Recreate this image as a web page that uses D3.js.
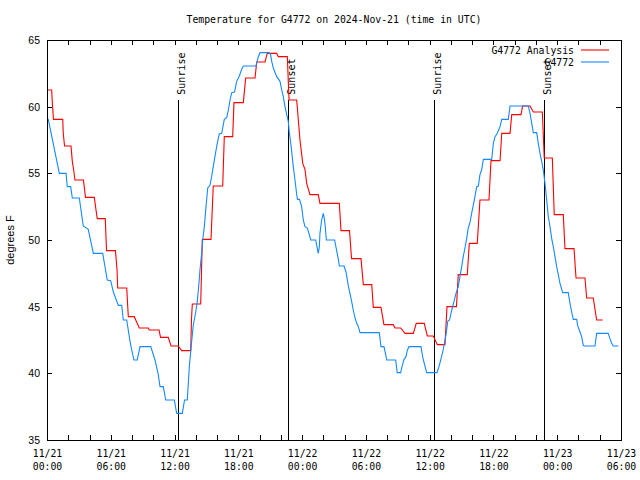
<!DOCTYPE html>
<html><head><meta charset="utf-8">
<script src="https://cdn.jsdelivr.net/npm/d3@7"></script>
<style>body{margin:0;background:#fff}svg{display:block}</style>
</head><body>
<svg id="c" width="640" height="480"></svg>
<script>
const titleText = "Temperature for G4772 on 2024-Nov-21 (time in UTC)";
const yLabelText = "degrees F";
const seriesNames = ["G4772 Analysis", "G4772"];
const seriesColors = ["#ff0000", "#1589ff"];
const yTicks = [35, 40, 45, 50, 55, 60, 65];
const xTickHours = [0, 6, 12, 18, 24, 30, 36, 42, 48, 54];
const xTickDates = ["11/21","11/21","11/21","11/21","11/22","11/22","11/22","11/22","11/23","11/23"];
const xTickTimes = ["00:00","06:00","12:00","18:00","00:00","06:00","12:00","18:00","00:00","06:00"];
const minorTickHours = d3.range(0, 55, 2);
const sunHours = [12.35, 22.70, 36.43, 46.78];
const sunLabels = ["Sunrise", "Sunset", "Sunrise", "Sunset"];

// [hours since 11/21 00:00 UTC, degrees F]
const analysisPoints = [[0,61.25],[0.44,61.25],[0.52,60.05],[0.61,59.05],[1.48,59.05],[1.53,58.0],[1.65,57.05],[2.26,57.05],[2.38,55.9],[2.51,55.25],[2.63,54.5],[3.43,54.5],[3.62,53.2],[4.45,53.2],[4.61,52.25],[4.73,51.6],[5.48,51.6],[5.60,49.2],[6.44,49.2],[6.59,47.75],[6.65,46.4],[7.50,46.4],[7.65,44.25],[8.21,44.25],[8.68,43.4],[9.53,43.4],[9.62,43.25],[10.54,43.25],[10.68,42.7],[11.41,42.7],[11.67,42.05],[12.35,42.05],[12.67,41.7],[13.52,41.7],[13.59,44.0],[13.67,45.2],[14.46,45.2],[14.61,50.05],[15.43,50.05],[15.64,54.05],[16.53,54.05],[16.68,57.75],[17.47,57.75],[17.59,60.3],[18.47,60.3],[18.69,62.15],[19.57,62.15],[19.73,63.35],[20.51,63.35],[20.72,64.0],[21.61,64.0],[21.76,63.75],[22.61,63.75],[22.77,60.5],[23.49,60.5],[23.80,57.5],[24.06,55.75],[24.27,55.3],[24.43,54.25],[24.74,53.4],[25.52,53.4],[25.68,52.75],[27.50,52.75],[27.66,50.7],[28.46,50.7],[28.65,48.6],[29.54,48.6],[29.76,46.65],[30.55,46.65],[30.70,44.95],[31.42,44.95],[31.70,43.65],[32.58,43.65],[32.74,43.4],[33.27,43.4],[33.68,43.0],[34.46,43.0],[34.74,43.75],[35.49,43.75],[35.78,42.8],[36.34,42.8],[36.72,42.15],[37.44,42.15],[37.63,45.0],[38.52,45.0],[38.69,47.4],[39.54,47.4],[39.73,49.75],[40.48,49.75],[40.73,53.0],[41.58,53.0],[41.77,55.95],[42.62,55.95],[42.78,58.0],[43.56,58.0],[43.72,59.4],[44.59,59.4],[44.75,60.05],[45.44,60.05],[45.75,59.6],[46.60,59.6],[46.78,56.15],[47.54,56.15],[47.72,51.9],[48.57,51.9],[48.73,49.35],[49.58,49.35],[49.77,47.15],[50.61,47.15],[50.77,45.65],[51.39,45.65],[51.71,44.0],[52.28,44.0]];

const observedPoints = [[0,59.05],[0.12,59.05],[1.16,55.0],[1.79,55.0],[1.91,54.0],[2.23,54.0],[2.38,53.15],[3.04,53.15],[3.41,51.05],[3.88,50.8],[4.36,49.0],[5.24,49.0],[5.67,47.0],[5.99,46.95],[6.24,46.1],[6.71,45.1],[7.03,45.1],[7.18,44.0],[7.50,44.0],[7.81,42.4],[7.97,41.75],[8.18,41.0],[8.49,41.0],[8.75,42.0],[9.76,42.0],[10.16,41.0],[10.47,39.9],[10.63,39.0],[10.94,39.0],[11.17,38.0],[11.98,38.0],[12.20,37.0],[12.73,37.0],[12.94,38.0],[13.20,38.0],[13.39,40.5],[13.61,42.4],[13.76,43.6],[13.99,44.6],[14.14,45.4],[14.27,46.5],[14.39,47.75],[14.55,49.0],[14.65,50.0],[14.80,51.0],[14.96,52.5],[15.12,53.9],[15.33,54.1],[15.49,54.75],[15.64,55.5],[15.80,56.25],[15.96,57.0],[16.11,57.6],[16.21,57.95],[16.43,58.0],[16.53,58.4],[16.68,59.05],[16.91,59.2],[17.06,59.75],[17.22,60.5],[17.38,61.05],[17.64,61.1],[17.85,61.9],[18.09,62.3],[18.32,62.8],[18.47,63.05],[19.66,63.05],[19.88,63.75],[20.04,64.05],[20.91,64.05],[21.04,63.9],[21.14,63.4],[21.29,62.9],[21.61,62.25],[21.92,61.9],[22.08,61.25],[22.23,60.75],[22.39,60.0],[22.55,59.4],[22.70,58.9],[22.79,58.1],[22.93,57.25],[23.05,56.4],[23.17,55.5],[23.33,54.5],[23.49,53.4],[23.57,53.05],[23.75,53.05],[23.96,52.5],[24.11,51.5],[24.27,51.0],[24.49,50.9],[24.68,50.4],[24.81,50.0],[25.28,50.0],[25.37,49.6],[25.52,49.0],[25.62,49.5],[25.68,50.5],[25.84,51.5],[25.99,52.0],[26.09,51.6],[26.18,51.0],[26.28,50.0],[27.06,50.0],[27.25,49.2],[27.40,48.6],[27.50,48.05],[27.94,48.05],[28.13,47.6],[28.34,46.6],[28.50,46.0],[28.66,45.4],[28.81,44.75],[28.98,44.15],[29.14,43.75],[29.29,43.5],[29.45,43.05],[31.26,43.05],[31.42,42.0],[31.70,42.0],[31.84,41.5],[31.96,41.0],[32.80,41.0],[32.95,40.05],[33.27,40.05],[33.40,40.5],[33.59,41.05],[33.77,41.25],[33.91,41.75],[34.06,42.0],[35.18,42.0],[35.34,41.25],[35.49,40.75],[35.72,40.05],[36.69,40.05],[36.91,40.6],[37.07,41.1],[37.23,41.6],[37.38,42.25],[37.54,42.9],[37.70,43.9],[37.87,44.0],[38.08,44.75],[38.29,45.4],[38.48,46.0],[38.69,46.5],[38.85,47.25],[39.01,48.0],[39.16,48.75],[39.32,49.4],[39.48,50.1],[39.63,50.9],[39.79,51.3],[39.95,52.0],[40.10,52.6],[40.26,53.25],[40.42,54.0],[40.58,54.05],[40.73,54.9],[40.89,55.25],[41.05,56.05],[41.84,56.05],[41.99,57.25],[42.15,57.75],[42.36,58.0],[42.62,58.5],[42.78,59.05],[43.40,59.05],[43.56,60.05],[45.28,60.05],[45.44,59.5],[45.60,58.75],[45.75,58.05],[46.07,58.05],[46.22,57.25],[46.38,56.5],[46.54,55.9],[46.69,55.25],[46.85,54.25],[47.01,53.0],[47.16,51.75],[47.32,51.0],[47.48,50.1],[47.63,49.5],[47.79,48.75],[47.95,48.0],[48.10,47.4],[48.26,46.75],[48.51,46.05],[49.04,46.05],[49.20,45.25],[49.36,44.6],[49.51,44.05],[49.83,44.05],[49.92,43.6],[50.07,43.25],[50.30,42.75],[50.45,42.1],[50.55,42.05],[51.55,42.05],[51.71,43.0],[52.80,43.0],[52.96,42.6],[53.12,42.25],[53.27,42.05],[53.75,42.05]];

const W = 640, H = 480;
const m = {left: 47, right: 19, top: 40, bottom: 40};
const MONO = "'DejaVu Sans Mono', monospace";
const SANS = "'Liberation Sans', Arial, sans-serif";

const svg = d3.select("#c");
svg.append("rect").attr("width", W).attr("height", H).attr("fill", "#fff");

const x = d3.scaleLinear().domain([0, 54]).range([m.left, W - m.right]);
const y = d3.scaleLinear().domain([35, 65]).range([H - m.bottom, m.top]);

// title
svg.append("text").attr("x", (x.range()[0] + x.range()[1]) / 2).attr("y", 23)
  .attr("text-anchor", "middle").attr("font-family", MONO).attr("font-size", "9.8px")
  .text(titleText);

// y label
svg.append("text").attr("transform", `translate(14,${(y.range()[0] + y.range()[1]) / 2}) rotate(-90)`)
  .attr("text-anchor", "middle").attr("font-family", SANS).attr("font-size", "11px")
  .text(yLabelText);

function styleAxis(g) {
  g.select(".domain").remove();
  g.selectAll("line").attr("stroke", "#000").attr("shape-rendering", "crispEdges");
}

// bottom ticks (every 2 h) & top mirror
svg.append("g").attr("transform", `translate(0,${y(35)})`)
  .call(d3.axisBottom(x).tickValues(minorTickHours).tickSizeInner(-5).tickSizeOuter(0).tickFormat(""))
  .call(styleAxis);
svg.append("g").attr("transform", `translate(0,${y(65)})`)
  .call(d3.axisTop(x).tickValues(minorTickHours).tickSizeInner(-5).tickSizeOuter(0).tickFormat(""))
  .call(styleAxis);

// bottom labels
const xl = svg.append("g").attr("transform", `translate(0,${y(35)})`)
  .call(d3.axisBottom(x).tickValues(xTickHours).tickSize(0).tickPadding(0).tickFormat(""));
xl.select(".domain").remove();
xl.selectAll(".tick").each(function(d, i) {
  const t = d3.select(this).append("text").attr("fill", "#000")
    .attr("font-family", MONO).attr("font-size", "9.8px").attr("text-anchor", "middle");
  t.append("tspan").attr("x", 0).attr("y", 17).text(xTickDates[i]);
  t.append("tspan").attr("x", 0).attr("y", 30).text(xTickTimes[i]);
});

// left & right y axes
const yl = svg.append("g").attr("transform", `translate(${x(0)},0)`)
  .call(d3.axisLeft(y).tickValues(yTicks).tickSizeInner(-5).tickSizeOuter(0).tickPadding(7).tickFormat(d3.format("d")))
  .call(styleAxis);
yl.selectAll("text").attr("font-family", SANS).attr("font-size", "10.5px").attr("fill", "#000");
svg.append("g").attr("transform", `translate(${x(54)},0)`)
  .call(d3.axisRight(y).tickValues(yTicks).tickSizeInner(-5).tickSizeOuter(0).tickFormat(""))
  .call(styleAxis);

// sunrise / sunset markers
const sunG = svg.append("g");
sunHours.forEach((h, i) => {
  sunG.append("line").attr("x1", x(h)).attr("x2", x(h)).attr("y1", y(60.5)).attr("y2", y(35))
    .attr("stroke", "#000").attr("stroke-width", 1).attr("shape-rendering", "crispEdges");
  sunG.append("text").attr("transform", `translate(${x(h) + 7},${y(60.9)}) rotate(-90)`)
    .attr("font-family", MONO).attr("font-size", "10px").attr("text-anchor", "start")
    .text(sunLabels[i]);
});

// data lines
const line = d3.line().x(d => x(d[0])).y(d => y(d[1]));
[analysisPoints, observedPoints].forEach((pts, i) => {
  svg.append("path").datum(pts).attr("d", line).attr("fill", "none")
    .attr("stroke", seriesColors[i]).attr("stroke-width", 1.1)
    .attr("stroke-linejoin", "miter");
});

// border
svg.append("rect").attr("x", x(0)).attr("y", y(65)).attr("width", x(54) - x(0)).attr("height", y(35) - y(65))
  .attr("fill", "none").attr("stroke", "#000").attr("shape-rendering", "crispEdges");

// legend
seriesNames.forEach((name, i) => {
  const ly = 50 + i * 12;
  svg.append("text").attr("x", 574).attr("y", ly + 3.5).attr("text-anchor", "end")
    .attr("font-family", MONO).attr("font-size", "9.8px").text(name);
  svg.append("line").attr("x1", 581).attr("x2", 609).attr("y1", ly).attr("y2", ly)
    .attr("stroke", seriesColors[i]).attr("stroke-width", 1.1);
});
</script>
</body></html>
